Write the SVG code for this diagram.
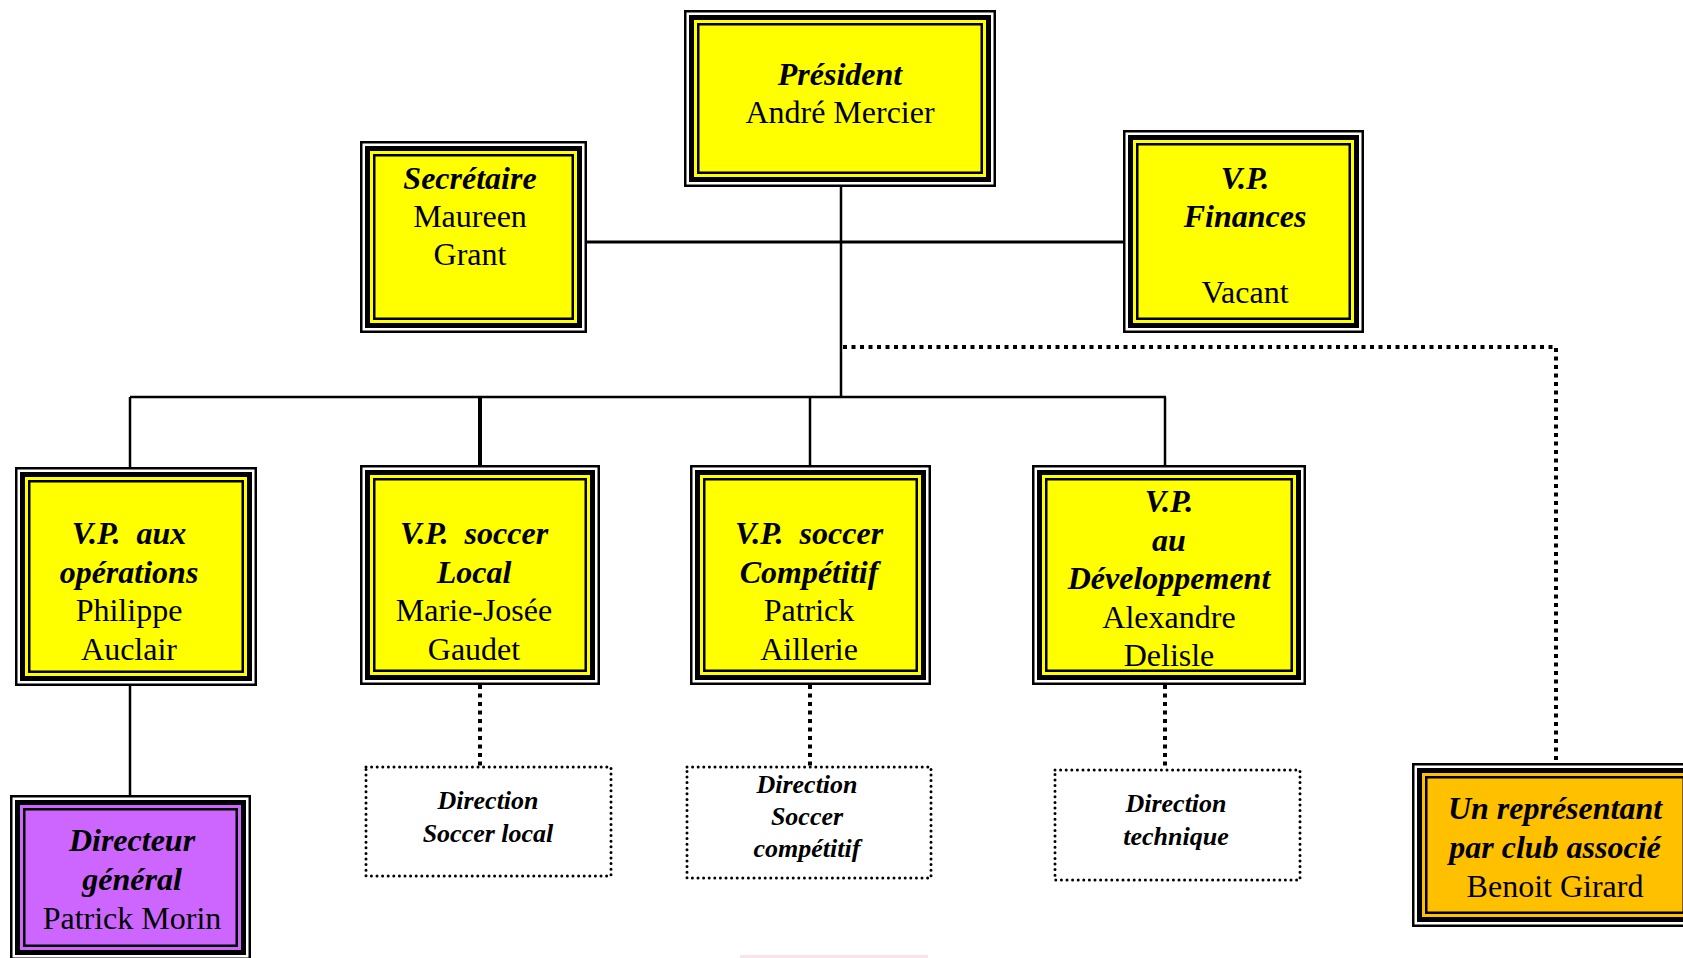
<svg xmlns="http://www.w3.org/2000/svg" width="1683" height="958" viewBox="0 0 1683 958">
<style>
.b{fill:#000}
.w{fill:#fff}
.y{fill:#ffff00}
.p{fill:#cc66ff}
.o{fill:#ffc000}
.in{fill:none;stroke:#000;stroke-width:2.5}
.dot{fill:none;stroke:#000;stroke-width:3;stroke-dasharray:0 5.6;stroke-linecap:round}
.ln{fill:none;stroke:#000;stroke-width:2.5}
.dl{fill:none;stroke:#000;stroke-width:4;stroke-dasharray:4 4.5}
text{font-family:"Liberation Serif","Times New Roman",serif;font-size:32px;text-anchor:middle;fill:#000}
.t{font-weight:bold;font-style:italic}
.s{font-size:26px;font-weight:bold;font-style:italic}
</style>
<rect width="1683" height="958" fill="#fff"/>
<g id="connectors">
<path class="ln" d="M841 187V397"/>
<path class="ln" style="stroke-width:3" d="M587 242H1123"/>
<path class="ln" d="M130 397H1166"/>
<path class="ln" d="M130 397V467"/>
<path class="ln" style="stroke-width:4" d="M480 397V465"/>
<path class="ln" d="M810 397V465"/>
<path class="ln" d="M1165 397V465"/>
<path class="ln" d="M130 686V795"/>
<path class="dl" d="M843 347H1556V763"/>
<path class="dl" d="M480 685V767"/>
<path class="dl" d="M810 685V767"/>
<path class="dl" d="M1165 685V770"/>
</g>
<g id="president">
<rect class="b" x="684" y="10" width="312" height="177"/>
<rect class="w" x="686.5" y="12.5" width="307" height="172"/>
<rect class="b" x="689" y="15" width="302" height="167"/>
<rect class="y" x="694" y="20" width="292" height="157"/>
<rect class="in" x="698.25" y="24.25" width="283.5" height="148.5"/>
<text class="t" x="840" y="85">Président</text>
<text x="840" y="123">André Mercier</text>
</g>
<g id="secretaire">
<rect class="b" x="360" y="141" width="227" height="192"/>
<rect class="w" x="362.5" y="143.5" width="222" height="187"/>
<rect class="b" x="365" y="146" width="217" height="182"/>
<rect class="y" x="370" y="151" width="207" height="172"/>
<rect class="in" x="374.25" y="155.25" width="198.5" height="163.5"/>
<text class="t" x="470" y="189">Secrétaire</text>
<text x="470" y="227">Maureen</text>
<text x="470" y="265">Grant</text>
</g>
<g id="vp-finances">
<rect class="b" x="1123" y="130" width="241" height="203"/>
<rect class="w" x="1125.5" y="132.5" width="236" height="198"/>
<rect class="b" x="1128" y="135" width="231" height="193"/>
<rect class="y" x="1133" y="140" width="221" height="183"/>
<rect class="in" x="1137.25" y="144.25" width="212.5" height="174.5"/>
<text class="t" x="1245" y="189">V.P.</text>
<text class="t" x="1245" y="227">Finances</text>
<text x="1245" y="303">Vacant</text>
</g>
<g id="vp-operations">
<rect class="b" x="15" y="467" width="242" height="219"/>
<rect class="w" x="17.5" y="469.5" width="237" height="214"/>
<rect class="b" x="20" y="472" width="232" height="209"/>
<rect class="y" x="25" y="477" width="222" height="199"/>
<rect class="in" x="29.25" y="481.25" width="213.5" height="190.5"/>
<text class="t" x="129" y="544" xml:space="preserve">V.P.  aux</text>
<text class="t" x="129" y="583">opérations</text>
<text x="129" y="621">Philippe</text>
<text x="129" y="660">Auclair</text>
</g>
<g id="vp-soccer-local">
<rect class="b" x="360" y="465" width="240" height="220"/>
<rect class="w" x="362.5" y="467.5" width="235" height="215"/>
<rect class="b" x="365" y="470" width="230" height="210"/>
<rect class="y" x="370" y="475" width="220" height="200"/>
<rect class="in" x="374.25" y="479.25" width="211.5" height="191.5"/>
<text class="t" x="474" y="544" xml:space="preserve">V.P.  soccer</text>
<text class="t" x="474" y="583">Local</text>
<text x="474" y="621">Marie-Josée</text>
<text x="474" y="660">Gaudet</text>
</g>
<g id="vp-soccer-competitif">
<rect class="b" x="690" y="465" width="241" height="220"/>
<rect class="w" x="692.5" y="467.5" width="236" height="215"/>
<rect class="b" x="695" y="470" width="231" height="210"/>
<rect class="y" x="700" y="475" width="221" height="200"/>
<rect class="in" x="704.25" y="479.25" width="212.5" height="191.5"/>
<text class="t" x="809" y="544" xml:space="preserve">V.P.  soccer</text>
<text class="t" x="809" y="583">Compétitif</text>
<text x="809" y="621">Patrick</text>
<text x="809" y="660">Aillerie</text>
</g>
<g id="vp-developpement">
<rect class="b" x="1032" y="465" width="274" height="220"/>
<rect class="w" x="1034.5" y="467.5" width="269" height="215"/>
<rect class="b" x="1037" y="470" width="264" height="210"/>
<rect class="y" x="1042" y="475" width="254" height="200"/>
<rect class="in" x="1046.25" y="479.25" width="245.5" height="191.5"/>
<text class="t" x="1169" y="512">V.P.</text>
<text class="t" x="1169" y="551">au</text>
<text class="t" x="1169" y="589">Développement</text>
<text x="1169" y="628">Alexandre</text>
<text x="1169" y="666">Delisle</text>
</g>
<g id="directeur-general">
<rect class="b" x="10" y="795" width="241" height="165"/>
<rect class="w" x="12.5" y="797.5" width="236" height="160"/>
<rect class="b" x="15" y="800" width="231" height="155"/>
<rect class="p" x="20" y="805" width="221" height="145"/>
<rect class="in" x="24.25" y="809.25" width="212.5" height="136.5"/>
<text class="t" x="132" y="851">Directeur</text>
<text class="t" x="132" y="890">général</text>
<text x="132" y="929">Patrick Morin</text>
</g>
<g id="representant">
<rect class="b" x="1412" y="763" width="286" height="164"/>
<rect class="w" x="1414.5" y="765.5" width="281" height="159"/>
<rect class="b" x="1417" y="768" width="276" height="154"/>
<rect class="o" x="1422" y="773" width="266" height="144"/>
<rect class="in" x="1426.25" y="777.25" width="257.5" height="135.5"/>
<text class="t" x="1555" y="819">Un représentant</text>
<text class="t" x="1555" y="858">par club associé</text>
<text x="1555" y="897">Benoit Girard</text>
</g>
<g id="direction-soccer-local">
<rect class="dot" x="366" y="767" width="245" height="109"/>
<text class="s" x="488" y="809">Direction</text>
<text class="s" x="488" y="842">Soccer local</text>
</g>
<g id="direction-soccer-competitif">
<rect class="dot" x="687" y="767" width="244" height="111"/>
<text class="s" x="807" y="793">Direction</text>
<text class="s" x="807" y="825">Soccer</text>
<text class="s" x="807" y="857">compétitif</text>
</g>
<g id="direction-technique">
<rect class="dot" x="1055" y="770" width="245" height="110"/>
<text class="s" x="1176" y="812">Direction</text>
<text class="s" x="1176" y="845">technique</text>
</g>
<rect x="740" y="955" width="188" height="3" fill="#f8e4e8"/>
</svg>
